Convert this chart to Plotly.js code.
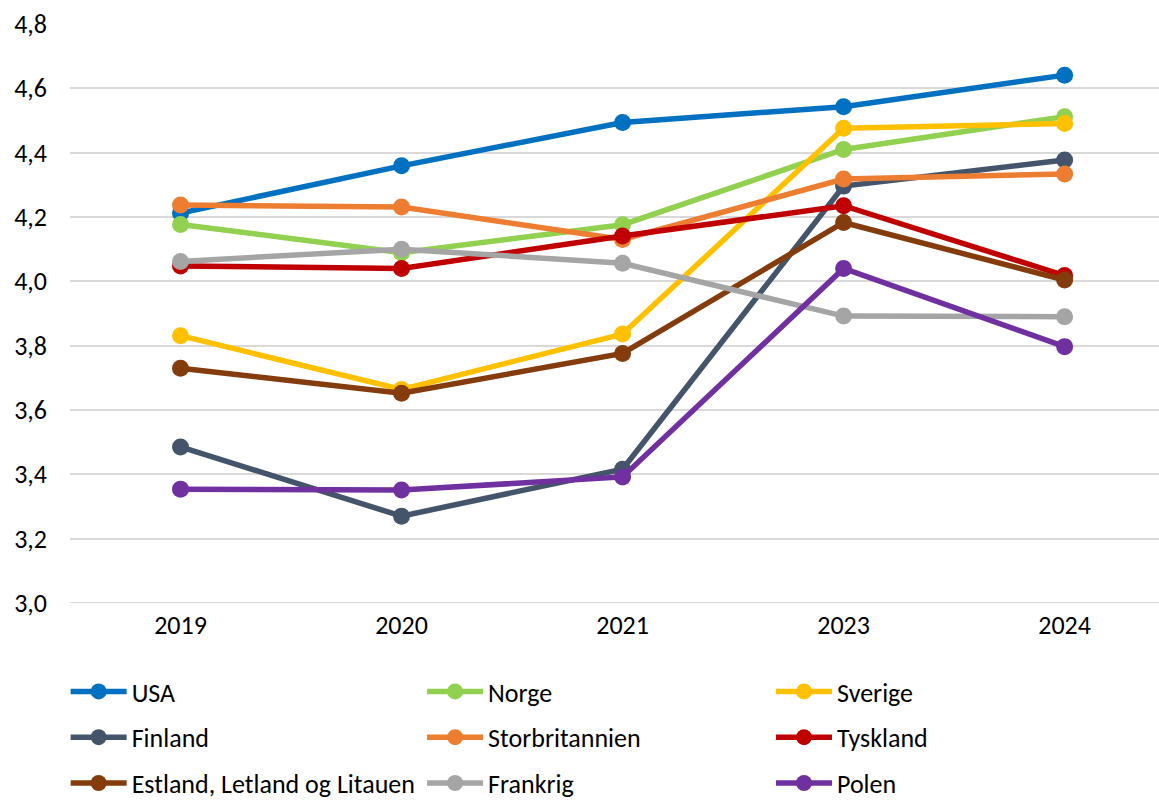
<!DOCTYPE html>
<html>
<head>
<meta charset="utf-8">
<script src="https://cdn.plot.ly/plotly-3.0.1.min.js"></script>
<style>
html, body { margin: 0; padding: 0; background: #fff; }
#chart { width: 1159px; height: 800px; }
</style>
</head>
<body>
<div id="chart"></div>
<script>
const years = ["2019", "2020", "2021", "2023", "2024"];
const usa = [4.212, 4.359, 4.494, 4.543, 4.641];
const norge = [4.177, 4.089, 4.176, 4.410, 4.512];
const sverige = [3.831, 3.664, 3.836, 4.476, 4.491];
const finland = [3.485, 3.270, 3.416, 4.296, 4.377];
const storbritannien = [4.237, 4.231, 4.130, 4.318, 4.334];
const tyskland = [4.048, 4.040, 4.141, 4.235, 4.018];
const estland = [3.730, 3.652, 3.776, 4.183, 4.004];
const frankrig = [4.062, 4.100, 4.056, 3.892, 3.890];
const polen = [3.354, 3.351, 3.392, 4.040, 3.797];

const seriesNames = ["USA", "Norge", "Sverige", "Finland", "Storbritannien", "Tyskland",
  "Estland, Letland og Litauen", "Frankrig", "Polen"];
const seriesValues = [usa, norge, sverige, finland, storbritannien, tyskland, estland, frankrig, polen];
const colors = ["#0070C0", "#92D050", "#FFC000", "#44546A", "#ED7D31", "#C00000", "#843C0C", "#A5A5A5", "#7030A0"];
const legendIds = ["legend", "legend2", "legend3", "legend", "legend2", "legend3", "legend", "legend2", "legend3"];

const font = "Carlito, Calibri, 'Liberation Sans Narrow', 'Liberation Sans', sans-serif";

const traces = seriesNames.map((name, i) => ({
  type: "scatter",
  mode: "lines+markers",
  name: name,
  x: years,
  y: seriesValues[i],
  line: { color: colors[i], width: 5.5 },
  marker: { color: colors[i], size: 17 },
  legend: legendIds[i],
  legendgroup: "g" + i
}));

const legendBase = {
  orientation: "v",
  yref: "container",
  yanchor: "top",
  y: 0.165,
  xanchor: "left",
  font: { family: font, size: 26, color: "#000" },
  itemwidth: 56,
  tracegroupgap: 9,
  bgcolor: "rgba(0,0,0,0)"
};

const layout = {
  width: 1159,
  height: 800,
  margin: { l: 70, r: 0, t: 24, b: 197, autoexpand: false },
  paper_bgcolor: "#fff",
  plot_bgcolor: "#fff",
  showlegend: true,
  xaxis: {
    type: "category",
    range: [-0.5, 4.427],
    showgrid: false,
    zeroline: false,
    showline: false,
    ticks: "",
    tickfont: { family: font, size: 26, color: "#000" },
    ticklabelstandoff: 4
  },
  yaxis: {
    range: [3.0, 4.8],
    dtick: 0.2,
    tick0: 3.0,
    tickformat: ".1f",
    showgrid: true,
    gridcolor: "#D9D9D9",
    gridwidth: 2,
    zeroline: false,
    showline: false,
    ticks: "",
    tickfont: { family: font, size: 26, color: "#000" },
    ticklabelstandoff: 22
  },
  separators: ", ",
  legend: Object.assign({}, legendBase, { x: -0.004 }),
  legend2: Object.assign({}, legendBase, { x: 0.3233 }),
  legend3: Object.assign({}, legendBase, { x: 0.6437 }),
  shapes: [{
    type: "line", xref: "paper", yref: "y",
    x0: 0, x1: 1, y0: 3.0, y1: 3.0,
    line: { color: "#D9D9D9", width: 2 },
    layer: "below"
  }]
};

Plotly.newPlot("chart", traces, layout, { displayModeBar: false, staticPlot: true });
</script>
</body>
</html>
